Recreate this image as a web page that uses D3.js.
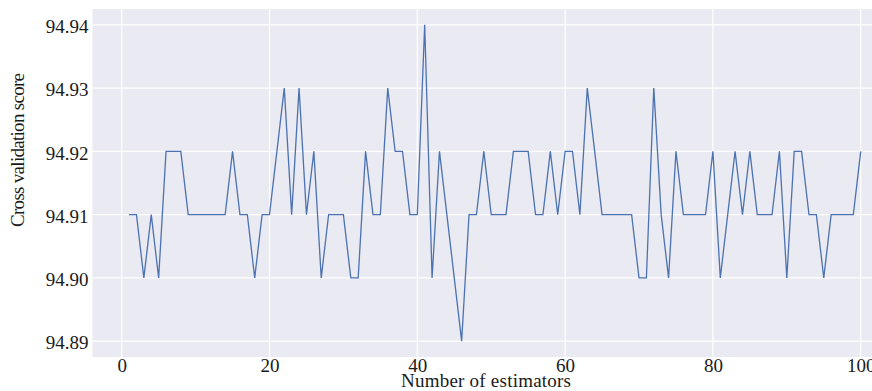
<!DOCTYPE html>
<html>
<head>
<meta charset="utf-8">
<script src="https://cdn.jsdelivr.net/npm/d3@7"></script>
<style>
  html, body { margin: 0; padding: 0; background: #ffffff; }
  svg { display: block; }
</style>
</head>
<body>
<svg id="chart" width="872" height="391"></svg>
<script>
// Number of estimators (1..100)
const estimators = d3.range(1, 101);

// Cross validation score for each estimator count
const scores = [
  94.91, 94.91, 94.90, 94.91, 94.90, 94.92, 94.92, 94.92, 94.91, 94.91,
  94.91, 94.91, 94.91, 94.91, 94.92, 94.91, 94.91, 94.90, 94.91, 94.91,
  94.92, 94.93, 94.91, 94.93, 94.91, 94.92, 94.90, 94.91, 94.91, 94.91,
  94.90, 94.90, 94.92, 94.91, 94.91, 94.93, 94.92, 94.92, 94.91, 94.91,
  94.94, 94.90, 94.92, 94.91, 94.90, 94.89, 94.91, 94.91, 94.92, 94.91,
  94.91, 94.91, 94.92, 94.92, 94.92, 94.91, 94.91, 94.92, 94.91, 94.92,
  94.92, 94.91, 94.93, 94.92, 94.91, 94.91, 94.91, 94.91, 94.91, 94.90,
  94.90, 94.93, 94.91, 94.90, 94.92, 94.91, 94.91, 94.91, 94.91, 94.92,
  94.90, 94.91, 94.92, 94.91, 94.92, 94.91, 94.91, 94.91, 94.92, 94.90,
  94.92, 94.92, 94.91, 94.91, 94.90, 94.91, 94.91, 94.91, 94.91, 94.92
];

const xTicks = [0, 20, 40, 60, 80, 100];
const yTicks = [94.89, 94.90, 94.91, 94.92, 94.93, 94.94];

const xLabel = "Number of estimators";
const yLabel = "Cross validation score";

const FONT = '"Liberation Serif", "Times New Roman", Tinos, serif';
const INK = "#1a1a1a";

const svg = d3.select("#chart");

// Axes area (extends past the right edge of the canvas)
const area = { left: 92.5, right: 897.3, top: 9, bottom: 357 };

const x = d3.scaleLinear().domain([-3.95, 104.95]).range([area.left, area.right]);
const y = d3.scaleLinear().domain([94.8875, 94.9425]).range([area.bottom, area.top]);

svg.append("rect")
  .attr("x", area.left).attr("y", area.top)
  .attr("width", area.right - area.left).attr("height", area.bottom - area.top)
  .attr("fill", "#eaeaf2");

// Grid
const grid = svg.append("g");
grid.selectAll("line.gx").data(xTicks).join("line")
  .attr("class", "gx")
  .attr("x1", d => x(d)).attr("x2", d => x(d))
  .attr("y1", area.top).attr("y2", area.bottom)
  .attr("stroke", "#ffffff").attr("stroke-width", 1.2);
grid.selectAll("line.gy").data(yTicks).join("line")
  .attr("class", "gy")
  .attr("x1", area.left).attr("x2", area.right)
  .attr("y1", d => y(d)).attr("y2", d => y(d))
  .attr("stroke", "#ffffff").attr("stroke-width", 1.2);

// Axes (no domain line, no tick marks)
const xAxis = svg.append("g")
  .attr("transform", `translate(0,${area.bottom})`)
  .call(d3.axisBottom(x).tickValues(xTicks).tickSize(0).tickPadding(1).tickFormat(d3.format("d")));
xAxis.select(".domain").remove();
xAxis.selectAll("text")
  .style("font-family", FONT).style("font-size", "19px").attr("fill", INK);

const yAxis = svg.append("g")
  .attr("transform", `translate(${area.left},0)`)
  .call(d3.axisLeft(y).tickValues(yTicks).tickSize(0).tickPadding(4).tickFormat(d3.format(".2f")));
yAxis.select(".domain").remove();
yAxis.selectAll("text")
  .attr("dy", "0.41em")
  .style("font-family", FONT).style("font-size", "19px").attr("fill", INK);

// Score line
const line = d3.line()
  .x((d, i) => x(estimators[i]))
  .y(d => y(d));

svg.append("path")
  .datum(scores)
  .attr("d", line)
  .attr("fill", "none")
  .attr("stroke", "#4c72b0")
  .attr("stroke-width", 1.3)
  .attr("stroke-linejoin", "miter");

// Axis titles
svg.append("text")
  .attr("x", 486).attr("y", 387)
  .attr("text-anchor", "middle")
  .attr("textLength", 170)
  .style("font-family", FONT).style("font-size", "19px").attr("fill", INK)
  .text(xLabel);

svg.append("text")
  .attr("transform", "translate(24,150) rotate(-90)")
  .attr("text-anchor", "middle")
  .attr("textLength", 154)
  .style("font-family", FONT).style("font-size", "19px").attr("fill", INK)
  .text(yLabel);
</script>
</body>
</html>
